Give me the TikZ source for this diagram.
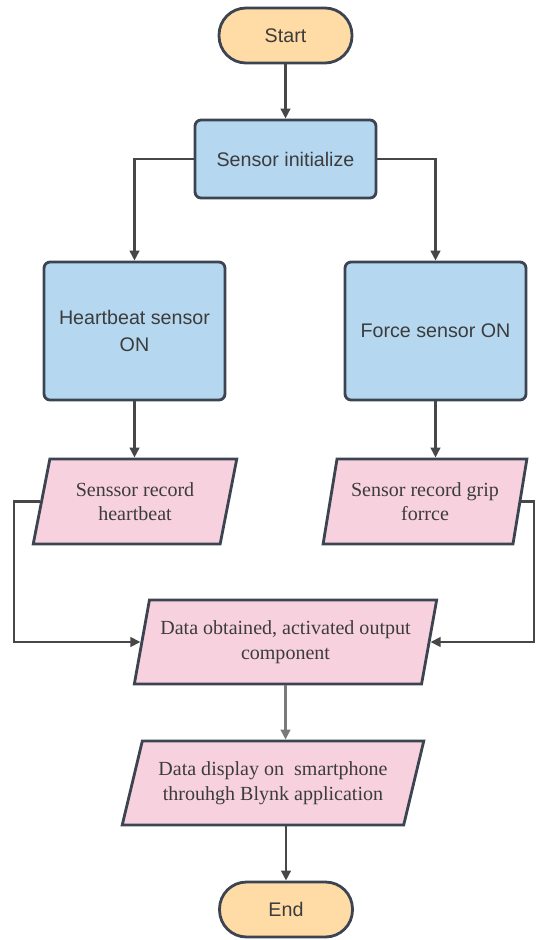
\documentclass[tikz,border=0pt]{standalone}
\usepackage{fontspec}
\setmainfont{Liberation Serif}
\setsansfont{Liberation Sans}
\usetikzlibrary{shapes.geometric}
\usetikzlibrary{arrows.meta}

\definecolor{termfill}{HTML}{FFDBA5}
\definecolor{procfill}{HTML}{B5D8F0}
\definecolor{iofill}{HTML}{F8D1DF}
\definecolor{edgegray}{HTML}{3B4450}
\definecolor{wire}{HTML}{474747}
\definecolor{lightwire}{HTML}{7A7A7A}
\definecolor{ink}{HTML}{3C3C3C}

\tikzset{
  term/.style={draw=edgegray, fill=termfill, line width=1.6pt, rounded corners=0.54cm,
    minimum width=2.66cm, minimum height=1.1cm, text=ink,
    font=\sffamily\fontsize{11.2}{14}\selectfont},
  proc/.style={draw=edgegray, fill=procfill, line width=1.6pt, rounded corners=0.12cm,
    minimum width=3.62cm, align=center, text=ink,
    font=\sffamily\fontsize{11.2}{15.4}\selectfont},
  io/.style={trapezium, trapezium stretches=true, draw=edgegray, fill=iofill,
    line width=1.6pt, align=center, inner sep=2pt, text=ink,
    font=\rmfamily\fontsize{11.4}{14}\selectfont},
  arr/.style={draw=wire, line width=1.6pt, -{Triangle[length=0.2cm,width=0.19cm]}}
}

\begin{document}
\begin{tikzpicture}[x=0.02cm, y=-0.02cm]
   \useasboundingbox (0,0) rectangle (536,940);

   \node [term] (start) at (285.5, 35.5) {Start};
   \node [proc, minimum height=1.56cm] (init) at (285.5, 159) {Sensor initialize};
   \node [proc, minimum height=2.76cm] (hbeat) at (134.5, 331) {Heartbeat sensor\\ON};
   \node [proc, minimum height=2.76cm] (force) at (435.5, 331) {Force sensor ON};

   \node [io, trapezium left angle=75, trapezium right angle=105,
          minimum width=4.08cm, minimum height=1.7cm] (hbrec) at (135, 501.5)
          {Senssor record\\heartbeat};
   \node [io, trapezium left angle=75, trapezium right angle=105,
          minimum width=4.08cm, minimum height=1.7cm] (frec) at (425, 501.5)
          {Sensor record grip\\forrce};
   \node [io, trapezium left angle=74, trapezium right angle=106,
          minimum width=6.06cm, minimum height=1.68cm] (obt) at (285.5, 642)
          {Data obtained, activated output\\component};
   \node [io, trapezium left angle=70, trapezium right angle=110,
          minimum width=6.04cm, minimum height=1.68cm] (disp) at (273, 783)
          {Data display on\ \ smartphone\\throuhgh Blynk application};
   \node [term] (finish) at (286, 909.5) {End};

   \coordinate (lrail) at (14, 0);
   \coordinate (rrail) at (534, 0);

   \draw [arr] (start) -- (init);
   \draw [arr] (init.west) -| (hbeat.north);
   \draw [arr] (init.east) -| (force.north);
   \draw [arr] (hbeat.south) -- (hbeat.south |- hbrec.north);
   \draw [arr] (force.south) -- (force.south |- frec.north);
   \draw [arr] (hbrec.west) -- (hbrec.west -| lrail) |- (obt.west);
   \draw [arr] (frec.east) -- (frec.east -| rrail) |- (obt.east);
   \draw [arr, draw=lightwire] (obt.south) -- (obt.south |- disp.north);
   \draw [arr] (finish.north |- disp.south) -- (finish.north);
\end{tikzpicture}
\end{document}
